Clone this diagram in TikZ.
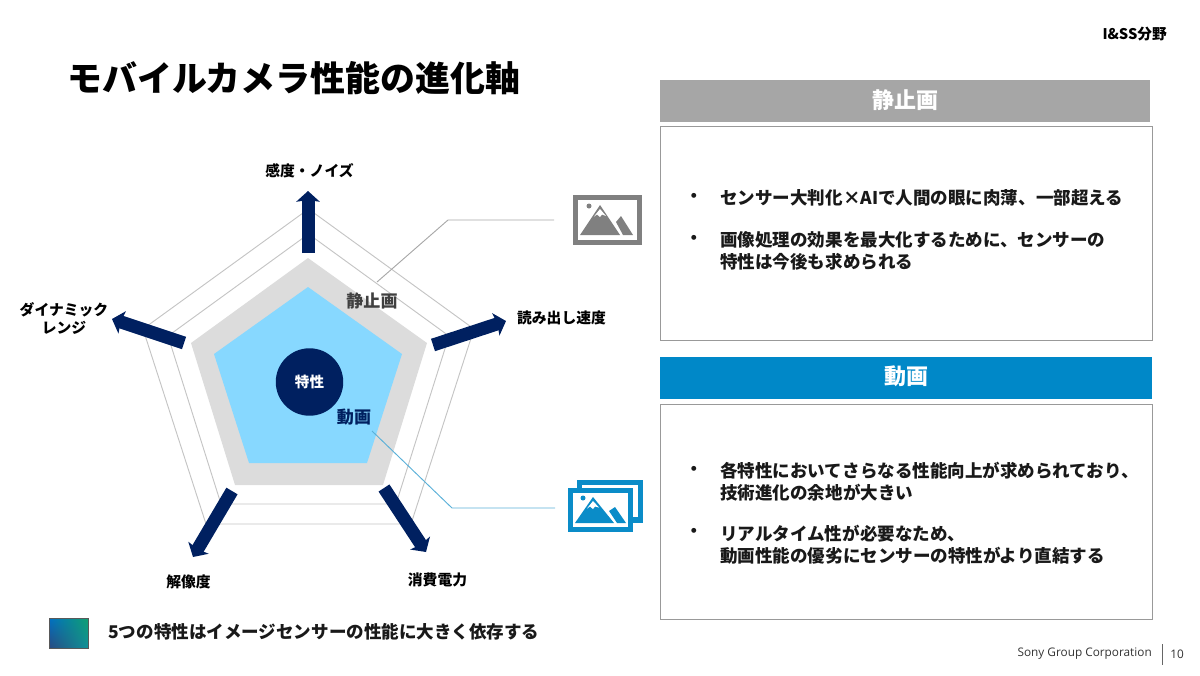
\documentclass[tikz,border=0pt]{standalone}
\usepackage{fontspec}
\setmainfont{Noto Sans CJK JP}
\newfontfamily\latinfont{Open Sans}
\usetikzlibrary{arrows.meta,shadings}
\definecolor{navy}{HTML}{002060}
\definecolor{skyfill}{HTML}{87D8FF}
\definecolor{grayfill}{HTML}{DCDCDC}
\definecolor{gridline}{HTML}{C4C4C4}
\definecolor{headgray}{HTML}{A6A6A6}
\definecolor{headblue}{HTML}{0088C8}
\definecolor{icongray}{HTML}{808080}
\definecolor{iconblue}{HTML}{0A8CC8}
\definecolor{leadblue}{HTML}{5AB0D8}
\definecolor{leadgray}{HTML}{A8A8A8}
\definecolor{sensorA}{HTML}{0070C4}
\definecolor{sensorB}{HTML}{10A070}
\definecolor{sensorC}{HTML}{2A4A80}
\definecolor{sensorD}{HTML}{10909A}
\tikzset{
  axisarrow/.style={navy,line width=9.75pt,-{Stealth[length=8pt,width=17.5pt,inset=1.2pt]}},
  grid/.style={draw=gridline,line width=0.7pt},
  axislabel/.style={font=\fontsize{11.1}{13.5}\selectfont\bfseries,align=center,text=black,inner sep=0pt},
  bodytext/.style={font=\fontsize{13.15}{16.6}\selectfont\bfseries,align=left,anchor=west,inner sep=0pt,text=black!90},
  headbox/.style={anchor=center,inner sep=0pt,text=white,font=\fontsize{16.5}{20}\selectfont\bfseries},
  panel/.style={draw=gray!80,line width=0.6pt,fill=white},
  leader/.style={line width=0.7pt}
}
\begin{document}
\begin{tikzpicture}[x=0.75pt,y=-0.75pt]
\useasboundingbox (0,0) rectangle (1200,675);
% radar grid
\draw[grid] (308.5,209) -- (474,329) -- (411,524) -- (206,524) -- (143,329) -- cycle;
\draw[grid] (308.5,234) -- (449,336) -- (396,504) -- (221,504) -- (168,336) -- cycle;
% performance areas
\fill[grayfill] (308,258) -- (427,343) -- (383,485) -- (235,485) -- (191,343) -- cycle;
\fill[skyfill] (308,287) -- (402,354) -- (367,463) -- (249,463) -- (214,354) -- cycle;
% axes
\coordinate (t0) at (308,253); \coordinate (t1) at (308,191);
\coordinate (r0) at (433,345); \coordinate (r1) at (506,321);
\coordinate (l0) at (184,343); \coordinate (l1) at (112,319);
\coordinate (bl0) at (232,491); \coordinate (bl1) at (193,557);
\coordinate (br0) at (384,488); \coordinate (br1) at (426,552);
\draw[axisarrow] (t0) -- (t1);
\draw[axisarrow] (r0) -- (r1);
\draw[axisarrow] (l0) -- (l1);
\draw[axisarrow] (bl0) -- (bl1);
\draw[axisarrow] (br0) -- (br1);
% centre
\node[circle,fill=navy,minimum size=50.6pt,inner sep=0pt,text=white,font=\fontsize{10.9}{12}\selectfont\bfseries] (center) at (309.5,382) {特性};
\node[inner sep=0pt,text=black!75,font=\fontsize{12.8}{15}\selectfont\bfseries] (still) at (372,301) {静止画};
\node[inner sep=0pt,text=navy,font=\fontsize{12.8}{15}\selectfont\bfseries] (movie) at (354,417) {動画};
% axis labels
\node[axislabel] (a1) at (309.5,171) {感度・ノイズ};
\node[axislabel] (a2) at (561.5,318) {読み出し速度};
\node[axislabel] (a3) at (64,318) {ダイナミック\\レンジ};
\node[axislabel] (a4) at (188.5,582) {解像度};
\node[axislabel] (a5) at (437.5,580) {消費電力};
% leaders
\coordinate (ls) at (377,282); \coordinate (lsm) at (448,220); \coordinate (lse) at (554,220);
\coordinate (lm) at (372,431); \coordinate (lmm) at (452,508); \coordinate (lme) at (555,508);
\draw[leader,leadgray] (ls) -- (lsm) -- (lse);
\draw[leader,leadblue] (lm) -- (lmm) -- (lme);
% still icon
\draw[icongray,line width=3.75pt] (575.5,197.5) rectangle (639.5,242.5);
\fill[icongray] (600,205) -- (620,235) -- (580,235) -- cycle;
\fill[white] (600,209) -- (606,216) -- (602,214.5) -- (600,217) -- (597,214.5) -- (594,216.5) -- cycle;
\fill[icongray] (616,222) -- (621,216) -- (633,235) -- (623,235) -- cycle;
\fill[icongray] (589,206) circle (2.5);
% movie icon
\draw[iconblue,line width=4pt] (579.7,482.7) rectangle (640.3,520);
\draw[iconblue,line width=4pt,fill=white] (570.7,490.7) rectangle (630.3,529.3);
\fill[iconblue] (593,497) -- (614,523) -- (575,523) -- cycle;
\fill[white] (593,501) -- (599,507.5) -- (595,506.5) -- (593,509) -- (590,506.5) -- (587,508.5) -- cycle;
\fill[iconblue] (609,511) -- (615,507) -- (626,523) -- (617,523) -- cycle;
\fill[iconblue] (583,498) circle (2.5);
% title
\node[anchor=west,inner sep=0pt,text=black,font=\fontsize{26.2}{30}\selectfont\bfseries] (title) at (67,78) {モバイルカメラ性能の進化軸};
\node[anchor=east,inner sep=0pt,text=black,font=\fontsize{11}{12}\selectfont\bfseries] (tag) at (1167,34) {I\&SS分野};
% right panels
\fill[headgray] (660,80) rectangle (1150,122);
\node[headbox] (h1) at (905,100) {静止画};
\draw[panel] (660,126.5) rectangle (1152,340.5);
\node[bodytext] (b1) at (685,198) {・};
\node[bodytext] (t1a) at (720,198) {センサー大判化×AIで人間の眼に肉薄、一部超える};
\node[bodytext] (b2) at (685,240) {・};
\node[bodytext] (t1b) at (720,251) {画像処理の効果を最大化するために、センサーの\\特性は今後も求められる};
\fill[headblue] (660,357) rectangle (1152,399);
\node[headbox] (h2) at (906,376) {動画};
\draw[panel] (660,404.5) rectangle (1152,619);
\node[bodytext] (b3) at (685,471) {・};
\node[bodytext] (t2a) at (720,482) {各特性においてさらなる性能向上が求められており、\\技術進化の余地が大きい};
\node[bodytext] (b4) at (685,533) {・};
\node[bodytext] (t2b) at (720,544.5) {リアルタイム性が必要なため、\\動画性能の優劣にセンサーの特性がより直結する};
% sensor note
\shade[shading=bilinear interpolation,upper left=sensorA,upper right=sensorB,lower left=sensorC,lower right=sensorD] (49,618) rectangle (88,648);
\draw[gray!70!black,line width=0.5pt] (49,618) rectangle (88,648);
\node[anchor=west,inner sep=0pt,text=black!90,font=\fontsize{13.15}{16}\selectfont\bfseries] (note) at (108,632) {5つの特性はイメージセンサーの性能に大きく依存する};
% footer
\node[anchor=east,inner sep=0pt,text=black!80,font=\latinfont\fontsize{8.85}{10}\selectfont] (corp) at (1152,654) {Sony Group Corporation};
\coordinate (f0) at (1162,644); \coordinate (f1) at (1162,665);
\draw[gray!80!black,line width=0.7pt] (f0) -- (f1);
\node[inner sep=0pt,text=black!80,font=\latinfont\fontsize{8.85}{10}\selectfont] (page) at (1177,654) {10};
\end{tikzpicture}
\end{document}
